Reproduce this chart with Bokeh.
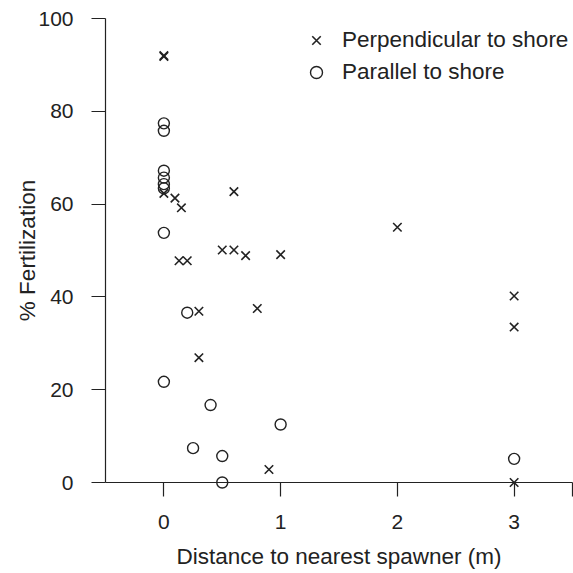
from bokeh.plotting import figure
from bokeh.models import FixedTicker, Legend, LegendItem, Range1d
from bokeh.embed import file_html
from bokeh.resources import INLINE

# Perpendicular to shore (x markers)
perp_dist = [0, 0, 0, 0.095, 0.15, 0.13, 0.2, 0.3, 0.3, 0.5, 0.6, 0.6, 0.7, 0.8, 0.9, 1.0, 2.0, 3.0, 3.0, 3.0]
perp_fert = [92.0, 91.8, 62.3, 61.3, 59.2, 47.8, 47.8, 36.9, 26.9, 50.1, 50.1, 62.7, 48.9, 37.5, 2.8, 49.1, 55.0, 40.2, 33.5, 0.0]

# Parallel to shore (o markers)
par_dist = [0, 0, 0, 0, 0, 0, 0, 0, 0.2, 0.4, 0.25, 0.5, 0.5, 1.0, 3.0]
par_fert = [77.4, 75.8, 67.2, 65.7, 64.3, 63.4, 53.8, 21.7, 36.6, 16.7, 7.4, 5.7, 0.0, 12.5, 5.1]

x_ticks = [0, 1, 2, 3]
y_ticks = [0, 20, 40, 60, 80, 100]
x_start, x_end = -0.5, 3.5
y_start, y_end = 0, 100

FONT = "Liberation Sans"
INK = "#222222"

p = figure(width=573, height=573, output_backend="svg", toolbar_location=None,
           x_range=Range1d(x_start, x_end), y_range=Range1d(y_start, y_end),
           min_border_left=105, min_border_right=1, min_border_top=18, min_border_bottom=91)
p.outline_line_color = None
p.grid.visible = False
p.background_fill_color = "white"
p.border_fill_color = "white"

cross = p.scatter(perp_dist, perp_fert, marker="x", size=12, line_width=1.6, line_color=INK,
                  level="overlay")
circ = p.scatter(par_dist, par_fert, marker="circle", size=11, line_width=1.4,
                 line_color=INK, fill_alpha=0, level="overlay")

p.xaxis.ticker = FixedTicker(ticks=x_ticks + [x_end])
p.xaxis.major_label_overrides = {x_end: ""}
p.yaxis.ticker = FixedTicker(ticks=y_ticks)

for ax in (p.xaxis[0], p.yaxis[0]):
    ax.minor_tick_line_color = None
    ax.major_tick_in = 0
    ax.major_tick_out = 14
    ax.major_tick_line_color = INK
    ax.major_tick_line_width = 1.2
    ax.axis_line_color = INK
    ax.axis_line_width = 1.2
    ax.major_label_text_font = FONT
    ax.major_label_text_font_size = "21px"
    ax.major_label_text_color = INK
    ax.axis_label_text_font = FONT
    ax.axis_label_text_font_size = "22.5px"
    ax.axis_label_text_font_style = "normal"
    ax.axis_label_text_color = INK

p.xaxis.axis_label = "Distance to nearest spawner (m)"
p.yaxis.axis_label = "% Fertilization"
p.xaxis.major_label_standoff = 18
p.yaxis.major_label_standoff = 18
p.xaxis.axis_label_standoff = 12
p.yaxis.axis_label_standoff = -5

legend = Legend(items=[LegendItem(label="Perpendicular to shore", renderers=[cross]),
                       LegendItem(label="Parallel to shore", renderers=[circ])],
                location=(196, 395), padding=0, margin=0, spacing=2,
                glyph_width=30, glyph_height=30, label_height=30, label_standoff=11,
                label_text_font=FONT, label_text_font_size="22.5px", label_text_color=INK,
                border_line_color=None, background_fill_alpha=0)
p.add_layout(legend, "center")

open("out.html", "w").write(file_html(p, INLINE))
